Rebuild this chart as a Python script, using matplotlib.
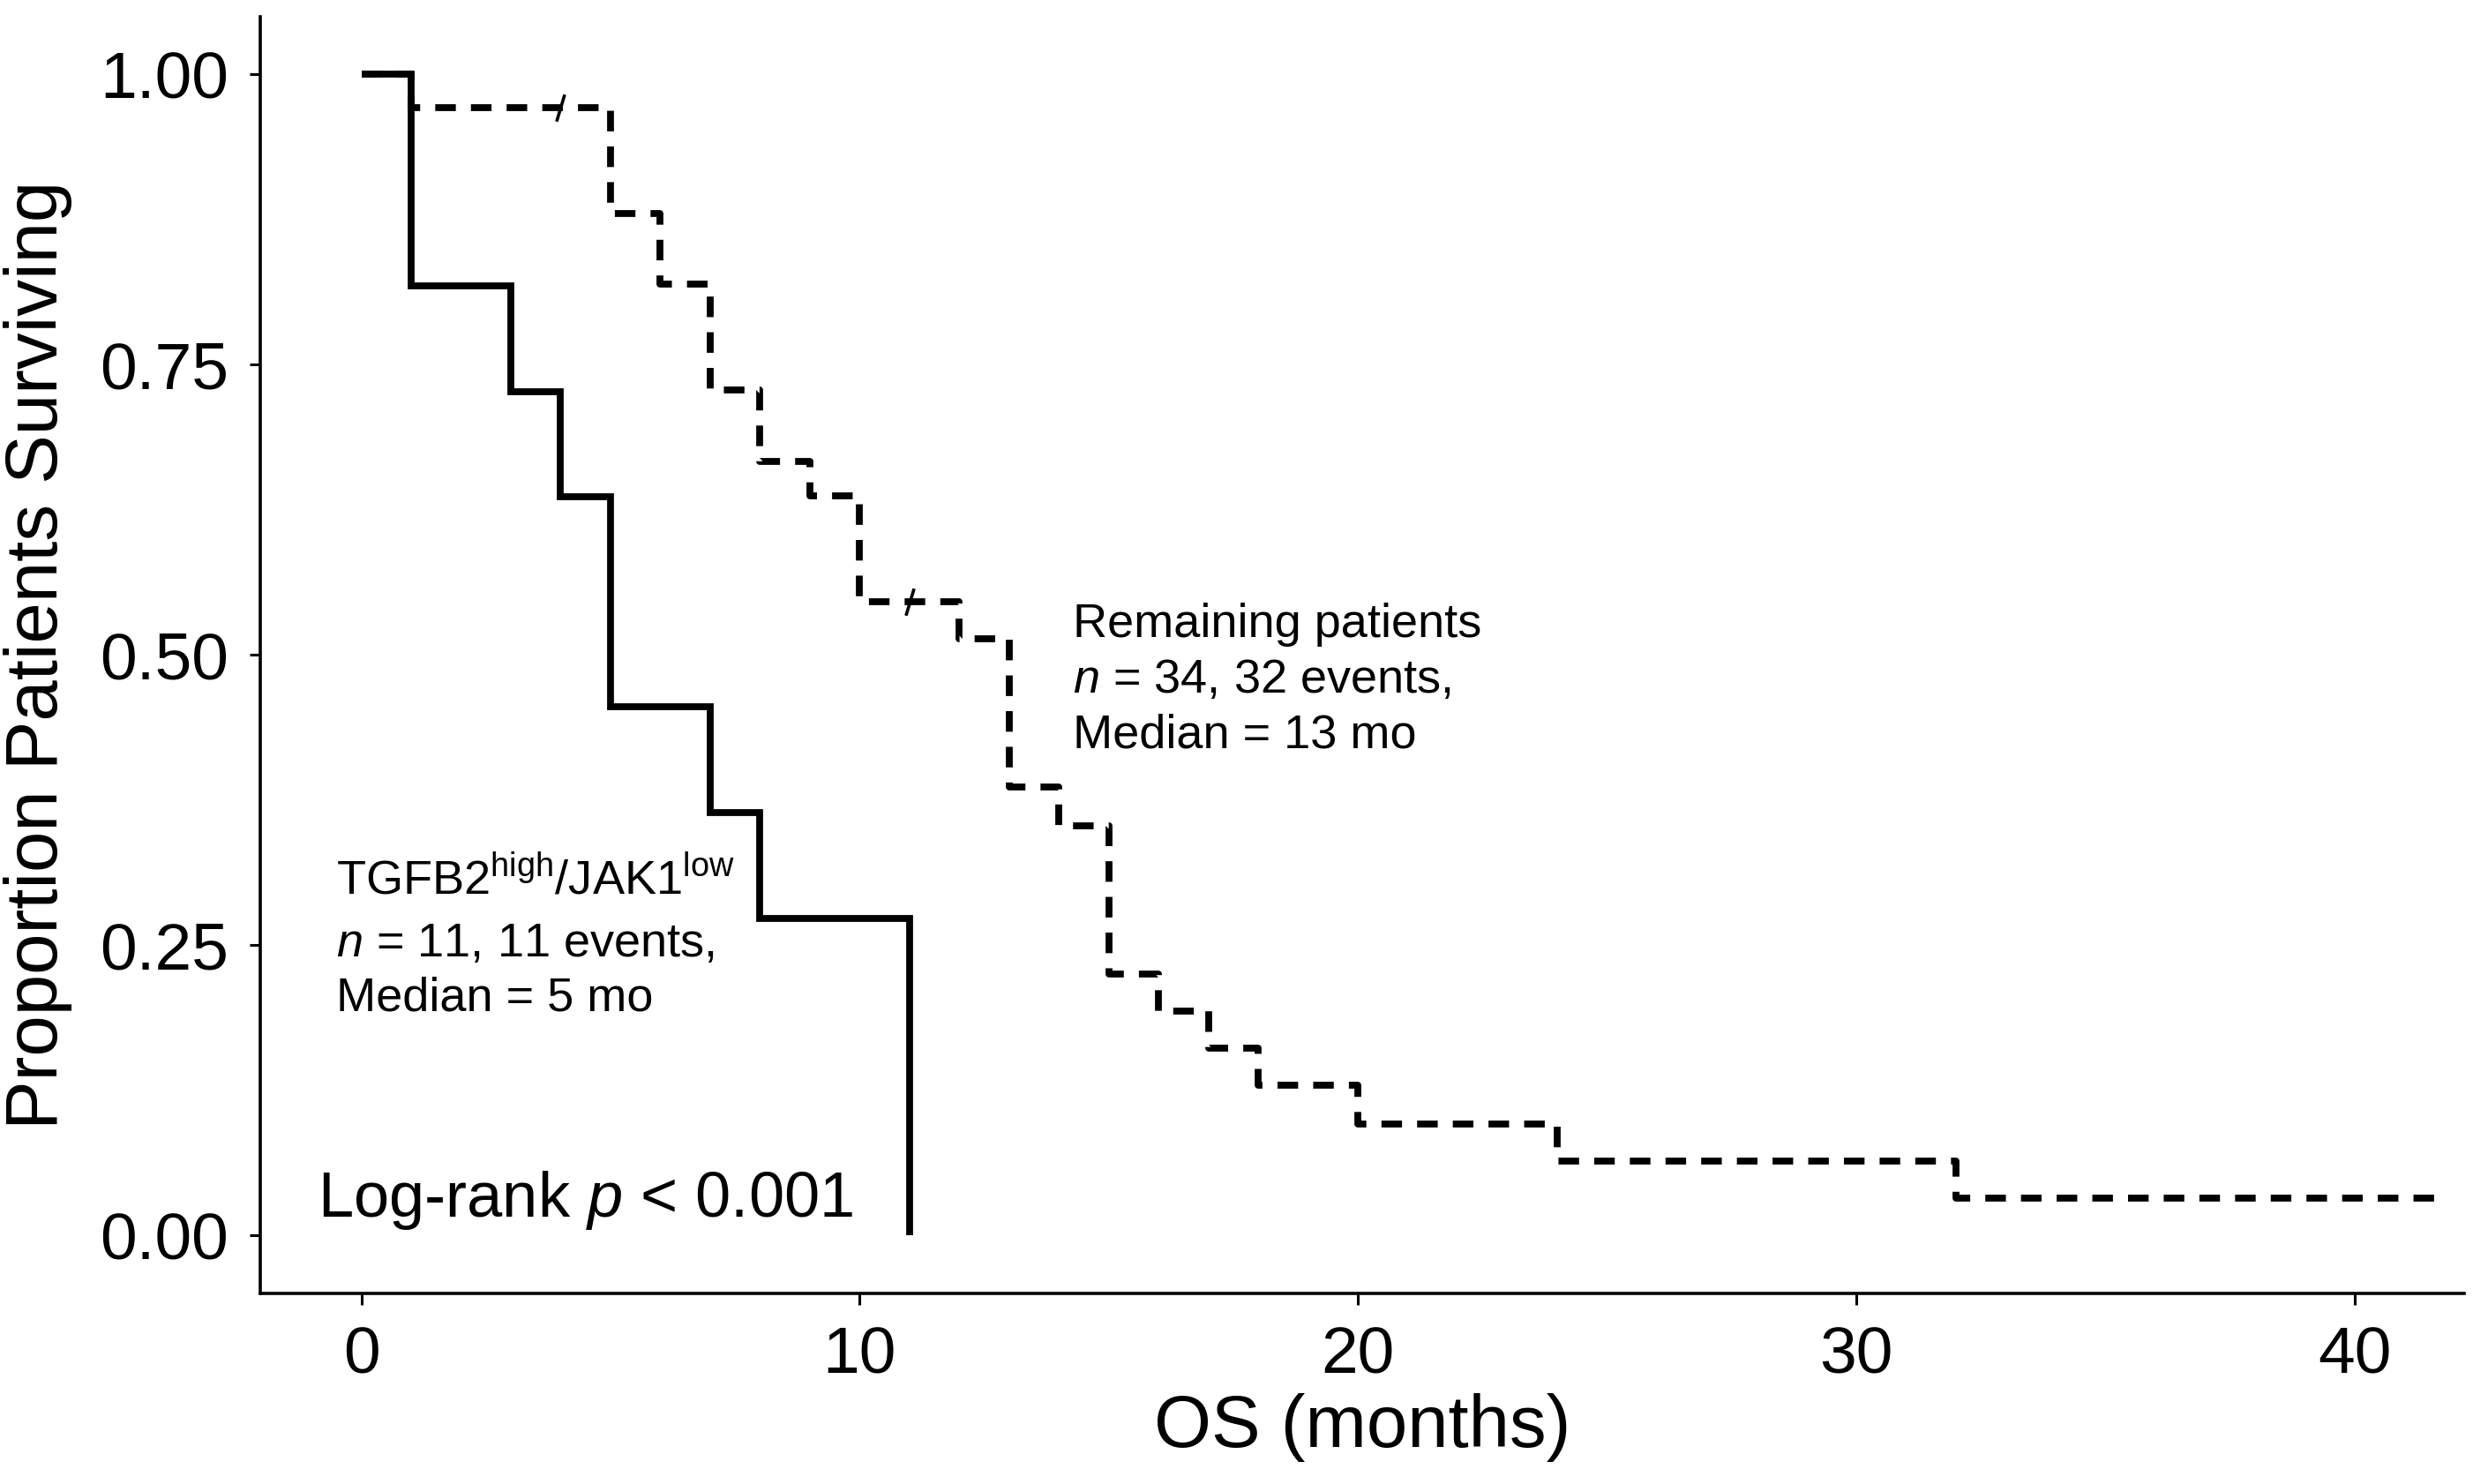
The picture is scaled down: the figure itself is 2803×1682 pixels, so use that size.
import matplotlib
matplotlib.use("Agg")
import matplotlib.pyplot as plt
from matplotlib.path import Path

plt.rcParams['font.family'] = ['Liberation Sans', 'DejaVu Sans']
plt.rcParams['mathtext.fontset'] = 'custom'
plt.rcParams['mathtext.rm'] = 'Liberation Sans'
plt.rcParams['mathtext.it'] = 'Liberation Sans:italic'

# Data
tgfb_times = [0, 1, 3, 4, 5, 7, 8, 11]
tgfb_surv = [1.0, 0.818, 0.727, 0.636, 0.455, 0.364, 0.273, 0.0]

rem_times = [0, 1, 5, 6, 7, 8, 9, 10, 12, 13, 14, 15, 16, 17, 18, 20, 24, 32, 41.9]
rem_surv = [1.0, 0.971, 0.880, 0.819, 0.728, 0.667, 0.637, 0.546, 0.514, 0.386,
            0.353, 0.225, 0.193, 0.161, 0.129, 0.096, 0.064, 0.032, 0.032]

rem_censor_t = [4, 11]
rem_censor_s = [0.971, 0.546]

xticks = [0, 10, 20, 30, 40]
yticks = [0.00, 0.25, 0.50, 0.75, 1.00]
ytick_labels = ["0.00", "0.25", "0.50", "0.75", "1.00"]

fig = plt.figure(figsize=(28.03, 16.82), dpi=100)
ax = fig.add_axes([0.1052, 0.1284, 0.8913, 0.8606])

ax.step(rem_times, rem_surv, where='post', color='black', lw=5.6,
        linestyle=(0, (3.0, 2.2)), dash_capstyle='butt', solid_joinstyle='miter')
ax.step(tgfb_times, tgfb_surv, where='post', color='black', lw=5.6,
        solid_joinstyle='miter', solid_capstyle='butt')

censor_marker = Path([(-0.3, -1.0), (0.3, 1.0)], [Path.MOVETO, Path.LINETO])
ax.plot(rem_censor_t, rem_censor_s, linestyle='none', marker=censor_marker,
        markersize=22, markeredgewidth=2.6, color='black')

ax.set_xlim(-2.03, 42.2)
ax.set_ylim(-0.05, 1.05)
ax.set_xticks(xticks)
ax.set_yticks(yticks)
ax.set_yticklabels(ytick_labels)

for s in ['top', 'right']:
    ax.spines[s].set_visible(False)
for s in ['left', 'bottom']:
    ax.spines[s].set_linewidth(2.6)
ax.tick_params(axis='both', length=9, width=2.2, labelsize=54, pad=17, color='black')

ax.set_xlabel("OS (months)", fontsize=60, labelpad=6)
ax.set_ylabel("Proportion Patients Surviving", fontsize=60, labelpad=22)

ax.text(14.27, 0.545, "Remaining patients\n$n$ = 34, 32 events,\nMedian = 13 mo",
        fontsize=39, va='top', ha='left', linespacing=1.33)
ax.text(-0.5, 0.325, "TGFB2$^{\\mathrm{high}}$/JAK1$^{\\mathrm{low}}$",
        fontsize=39, va='top', ha='left')
ax.text(-0.5, 0.270, "$n$ = 11, 11 events,\nMedian = 5 mo",
        fontsize=39, va='top', ha='left', linespacing=1.3)
ax.text(-0.88, 0.030, "Log-rank $p$ < 0.001", fontsize=52, va='center', ha='left')

fig.savefig("out.png", dpi=100)
